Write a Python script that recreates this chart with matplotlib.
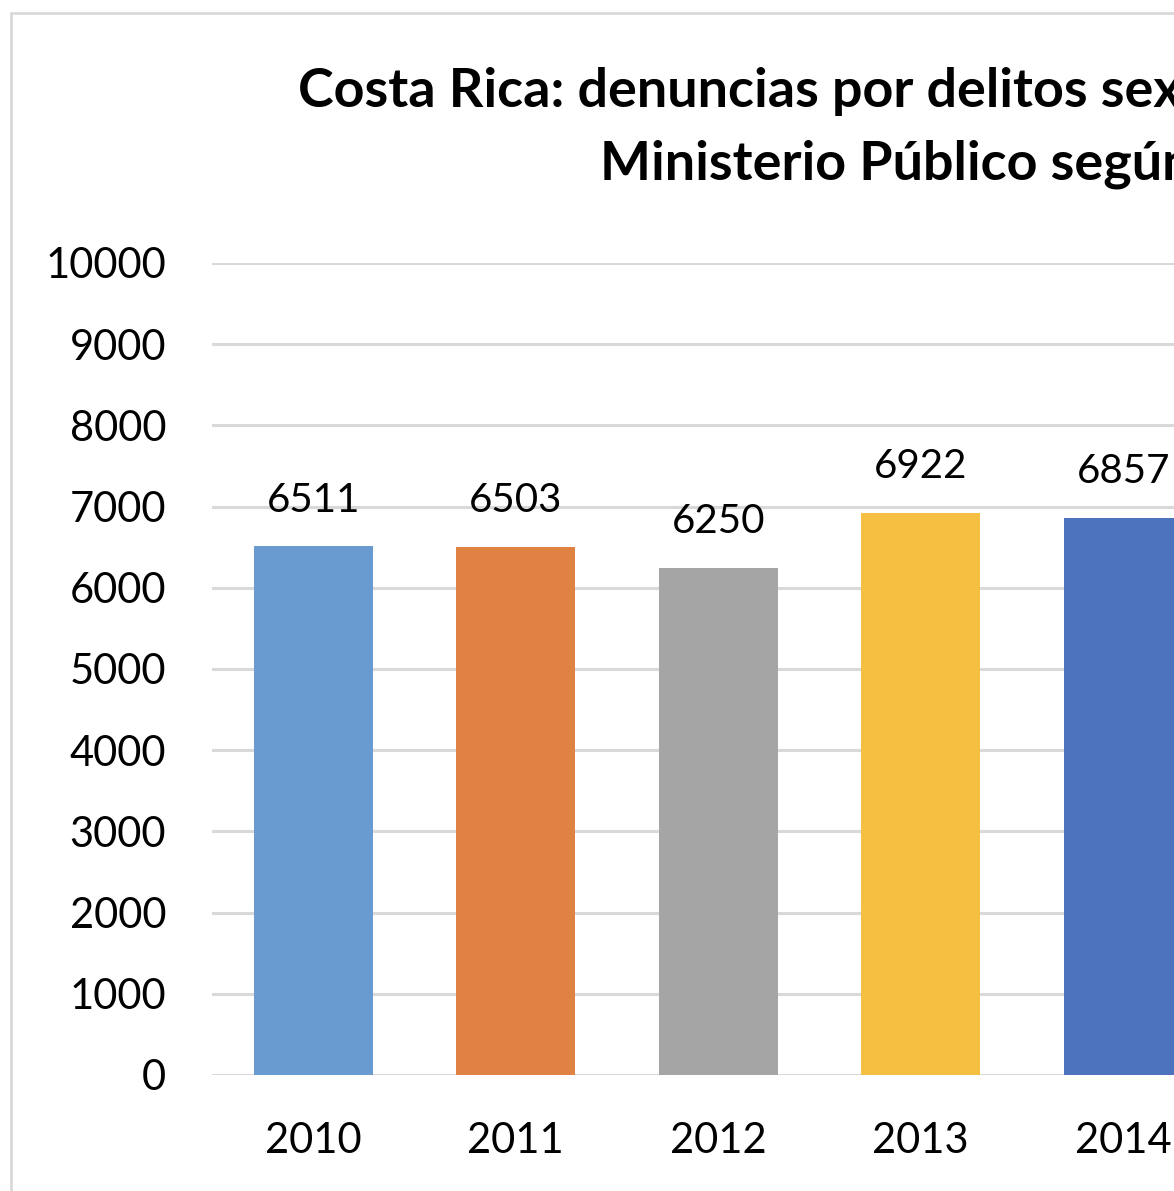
import matplotlib
matplotlib.use("Agg")
import matplotlib.pyplot as plt
from matplotlib.patches import Rectangle

years = ["2010", "2011", "2012", "2013", "2014"]
values = [6511, 6503, 6250, 6922, 6857]
colors = ["#6A9BD0", "#E08244", "#A5A5A5", "#F5BF42", "#4E73BE"]
yticks = [0, 1000, 2000, 3000, 4000, 5000, 6000, 7000, 8000, 9000, 10000]
title1 = "Costa Rica: denuncias por delitos sexuales"
title2 = "Ministerio Público según"

plt.rcParams['font.family'] = ['Lato', 'DejaVu Sans']

W, H = 1174, 1191
fig = plt.figure(figsize=(W/100, H/100), dpi=100)

# outer frame (extends beyond the crop)
fig.patches.append(Rectangle((11/W, -0.1), 2.0, 1 - 13/H + 0.1, transform=fig.transFigure,
                             fill=False, edgecolor="#D9D9D9", linewidth=2))

left_px, right_px = 212, 1300
ax = fig.add_axes([left_px/W, 1 - 1075/H, (right_px-left_px)/W, (1075-263)/H])
step = 202.5
ax.set_xlim(-0.5, -0.5 + (right_px-left_px)/step)
ax.set_ylim(0, 10000)
xs = list(range(len(years)))
ax.bar(xs, values, width=0.59, color=colors, zorder=3)
ax.set_yticks(yticks)
ax.set_yticklabels([str(t) for t in yticks])
ax.set_xticks(xs)
ax.set_xticklabels(years)
ax.grid(axis='y', color="#D9D9D9", linewidth=2.2, zorder=0)
ax.set_axisbelow(True)
for s in ax.spines.values():
    s.set_visible(False)
ax.tick_params(axis='both', length=0, labelsize=30, colors="#000000")
ax.tick_params(axis='y', pad=33)
ax.tick_params(axis='x', pad=34)
for x, v in zip(xs, values):
    ax.annotate(str(v), (x, v), xytext=(0, 20), textcoords='offset points',
                ha='center', va='bottom', fontsize=29)

fig.text(298/W, 1 - 92/H, title1, ha='left', va='center', fontsize=38.8, fontweight='bold')
fig.text(600/W, 1 - 164/H, title2, ha='left', va='center', fontsize=38.8, fontweight='bold')

fig.savefig("out.png", dpi=100)
